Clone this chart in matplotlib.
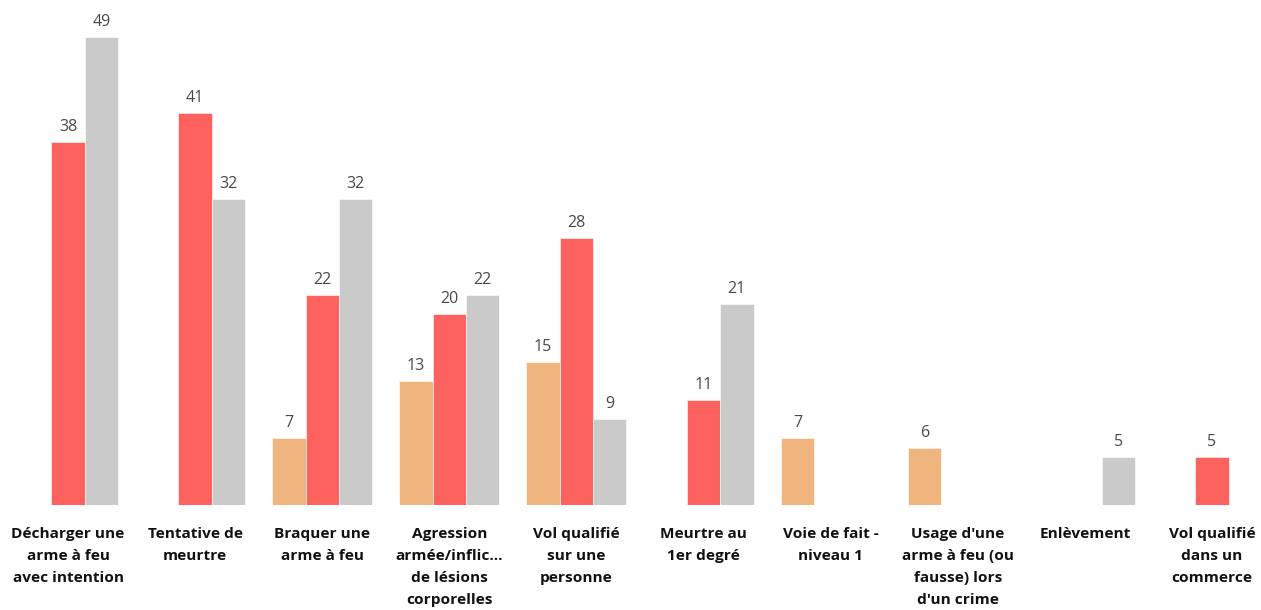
#!/usr/bin/env python3

import numpy as np
import matplotlib.pyplot as plt

categories = [
    "Décharger une\narme à feu\navec intention",
    "Tentative de\nmeurtre",
    "Braquer une\narme à feu",
    "Agression\narmée/inflic...\nde lésions\ncorporelles",
    "Vol qualifié\nsur une\npersonne",
    "Meurtre au\n1er degré",
    "Voie de fait -\nniveau 1",
    "Usage d'une\narme à feu (ou\nfausse) lors\nd'un crime",
    "Enlèvement",
    "Vol qualifié\ndans un\ncommerce",
]

# None = no bar for that category
orange_vals = [None, None, 7, 13, 15, None, 7, 6, None, None]
red_vals = [38, 41, 22, 20, 28, 11, None, None, None, 5]
grey_vals = [49, 32, 32, 22, 9, 21, None, None, 5, None]

colors = ['#F0B57E', '#FD625E', '#CACACA']

W, H = 1261, 610
fig = plt.figure(figsize=(W / 100, H / 100), dpi=100)
ax = fig.add_axes([0, 105 / H, 1, (573 - 105) / H])

x = np.arange(len(categories))
bw = 0.262
spacing = 127.1
ax.set_xlim(-68 / spacing, 9 + (W - 1212) / spacing)
ax.set_ylim(0, 49)

for k, vals in enumerate([orange_vals, red_vals, grey_vals]):
    for i, v in enumerate(vals):
        if v is None:
            continue
        xi = x[i] + (k - 1) * bw
        ax.bar(xi, v, width=bw, color=colors[k], edgecolor='white', linewidth=0.4)
        ax.annotate(str(v), (xi, v), xytext=(0, 5), textcoords='offset points',
                    ha='center', va='bottom', fontsize=11.5, color='#484848',
                    fontfamily='Open Sans', annotation_clip=False)

for i, lab in enumerate(categories):
    ax.annotate(lab, (x[i], 0), xytext=(0, -16), textcoords='offset points',
                ha='center', va='top', fontsize=11.1, fontweight='bold',
                color='#111111', fontfamily='Open Sans', linespacing=1.72,
                annotation_clip=False)

ax.axis('off')

plt.savefig("out.png", dpi=100)
